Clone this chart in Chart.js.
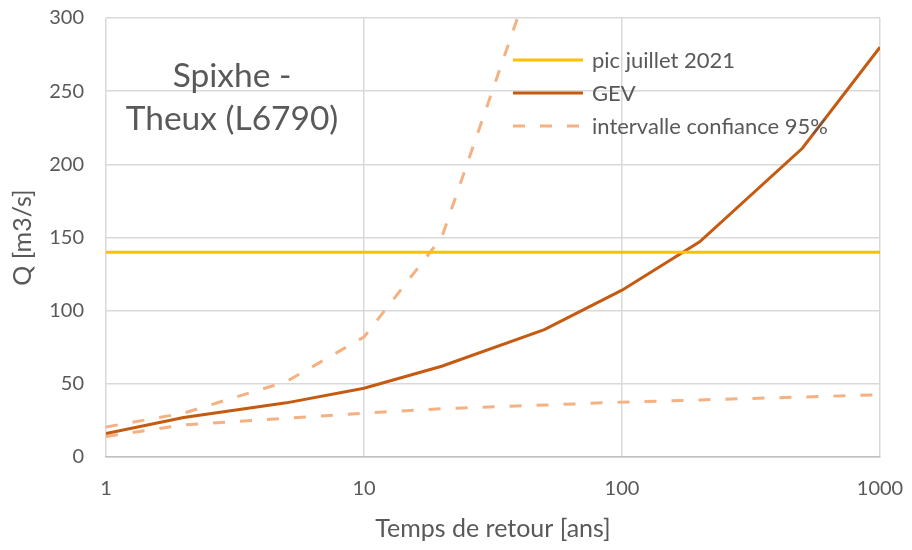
<!DOCTYPE html>
<html><head><meta charset="utf-8">
<script src="https://cdn.jsdelivr.net/npm/chart.js@4.4.1/dist/chart.umd.min.js"></script>
<style>html,body{margin:0;padding:0;background:#fff}#wrap{width:912px;height:550px}</style>
</head><body><div id="wrap"><canvas id="c" width="912" height="550"></canvas></div>
<script>
const returnPeriods = [1, 2, 5, 10, 20, 50, 100, 200, 500, 1000];
const gev = [16, 27, 37, 47, 62, 87, 114, 147, 211, 280];
const ciLower = [14, 22, 26.5, 30, 33, 35.5, 37.5, 39, 41, 42.5];
const ciUpper = [20.5, 30, 51.5, 82, 150, 353, null, null, null, null];
const peakPeriods = [1, 1000];
const peakValues = [140, 140];
const xTicks = [1, 10, 100, 1000];
const yTicks = [0, 50, 100, 150, 200, 250, 300];
const seriesLabels = ['pic juillet 2021', 'GEV', 'intervalle confiance 95%'];
const titleLines = ['Spixhe -', 'Theux (L6790)'];
const xTitle = 'Temps de retour [ans]';
const yTitle = 'Q [m3/s]';

const FONT = 'Lato';
const TXT = '#595959';
const pts = (xs, ys) => xs.map((x, i) => ({x: x, y: ys[i]})).filter(p => p.y !== null);

const insideTitle = {
  id: 'insideTitle',
  afterDatasetsDraw(chart) {
    const ctx = chart.ctx, a = chart.chartArea;
    ctx.save();
    ctx.fillStyle = TXT;
    ctx.font = '33.5px ' + FONT;
    ctx.textAlign = 'center';
    ctx.textBaseline = 'alphabetic';
    ctx.fillText(titleLines[0], a.left + 126, a.top + 69);
    ctx.fillText(titleLines[1], a.left + 126, a.top + 112);
    ctx.restore();
  }
};

const innerLegend = {
  id: 'innerLegend',
  afterDatasetsDraw(chart) {
    const ctx = chart.ctx, a = chart.chartArea;
    const x0 = a.right - 367, x1 = a.right - 297, tx = a.right - 288;
    let y = a.top + 42;
    ctx.save();
    ctx.font = '22px ' + FONT;
    ctx.textBaseline = 'middle';
    ctx.textAlign = 'left';
    chart.data.datasets.forEach(ds => {
      if (ds.hideInLegend) return;
      ctx.beginPath();
      ctx.strokeStyle = ds.borderColor;
      ctx.lineWidth = ds.borderWidth;
      ctx.setLineDash(ds.borderDash || []);
      ctx.moveTo(x0, y); ctx.lineTo(x1, y);
      ctx.stroke();
      ctx.setLineDash([]);
      ctx.fillStyle = TXT;
      ctx.fillText(ds.label, tx, y + 1);
      y += 33;
    });
    ctx.restore();
  }
};

new Chart(document.getElementById('c'), {
  type: 'line',
  data: {
    datasets: [
      {label: seriesLabels[0], data: pts(peakPeriods, peakValues), borderColor: '#ffc000', borderWidth: 3, pointRadius: 0, tension: 0},
      {label: seriesLabels[1], data: pts(returnPeriods, gev), borderColor: '#c55a11', borderWidth: 3, pointRadius: 0, tension: 0},
      {label: seriesLabels[2], data: pts(returnPeriods, ciUpper), borderColor: '#f4b183', borderWidth: 3, borderDash: [12, 15], pointRadius: 0, tension: 0},
      {label: seriesLabels[2], hideInLegend: true, data: pts(returnPeriods, ciLower), borderColor: '#f4b183', borderWidth: 3, borderDash: [12, 15], pointRadius: 0, tension: 0}
    ]
  },
  options: {
    responsive: false,
    animation: false,
    devicePixelRatio: 1,
    layout: {padding: {top: 18, right: 32, bottom: 0, left: 0}},
    plugins: {legend: {display: false}, tooltip: {enabled: false}},
    scales: {
      x: {
        type: 'logarithmic', min: 1, max: 1000,
        afterBuildTicks: s => { s.ticks = xTicks.map(v => ({value: v})); },
        afterFit: s => { s.height = 93; s.paddingLeft = 0; s.paddingRight = 0; },
        ticks: {color: TXT, font: {family: FONT, size: 20}, padding: 20, maxRotation: 0, callback: v => String(v)},
        grid: {color: '#d9d9d9', lineWidth: 1.5, drawTicks: false},
        border: {color: '#bfbfbf', width: 1.5},
        title: {display: true, text: xTitle, color: TXT, font: {family: FONT, size: 25}, padding: {top: 0, bottom: 6}}
      },
      y: {
        type: 'linear', min: 0, max: 300,
        afterBuildTicks: s => { s.ticks = yTicks.map(v => ({value: v})); },
        afterFit: s => { s.width = 106; s.paddingTop = 0; s.paddingBottom = 0; },
        ticks: {color: TXT, font: {family: FONT, size: 20}, padding: 22},
        grid: {color: '#d9d9d9', lineWidth: 1.5, drawTicks: false},
        border: {display: false},
        title: {display: true, text: yTitle, color: TXT, font: {family: FONT, size: 25}, padding: {top: 8, bottom: 0}}
      }
    }
  },
  plugins: [insideTitle, innerLegend]
});
</script></body></html>
